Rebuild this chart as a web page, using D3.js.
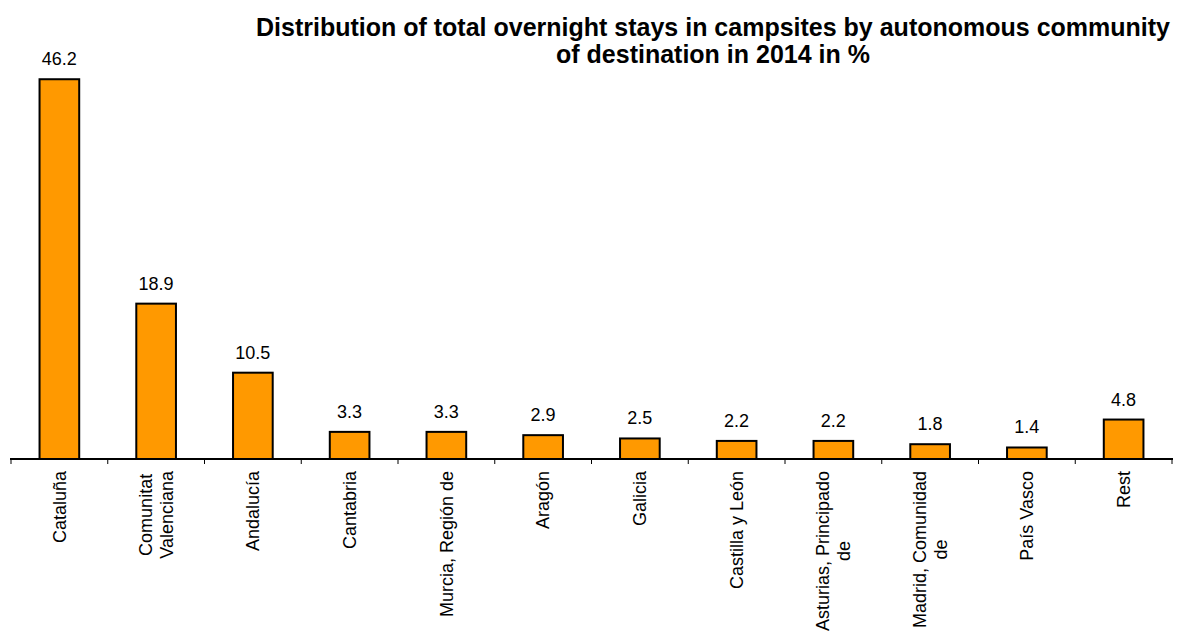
<!DOCTYPE html>
<html>
<head>
<meta charset="utf-8">
<script src="https://cdn.jsdelivr.net/npm/d3@7"></script>
<style>
  html, body { margin: 0; padding: 0; background: #fff; }
  svg { display: block; font-family: "Liberation Sans", Arial, sans-serif; }
</style>
</head>
<body>
<svg id="chart" width="1184" height="632"></svg>
<script>
// Overnight stays in campsites by autonomous community, 2014 (%)
const categories = [
  "Cataluña",
  "Comunitat Valenciana",
  "Andalucía",
  "Cantabria",
  "Murcia,  Región de",
  "Aragón",
  "Galicia",
  "Castilla y León",
  "Asturias, Principado de",
  "Madrid, Comunidad de",
  "País Vasco",
  "Rest"
];
const values = [46.2, 18.9, 10.5, 3.3, 3.3, 2.9, 2.5, 2.2, 2.2, 1.8, 1.4, 4.8];
// label line breaks as they appear under the axis
const labelLines = [
  ["Cataluña"],
  ["Comunitat", "Valenciana"],
  ["Andalucía"],
  ["Cantabria"],
  ["Murcia,  Región de"],
  ["Aragón"],
  ["Galicia"],
  ["Castilla y León"],
  ["Asturias, Principado", "de"],
  ["Madrid, Comunidad", "de"],
  ["País Vasco"],
  ["Rest"]
];
const titleLines = [
  "Distribution of total overnight stays in campsites by autonomous community",
  "of destination in 2014 in %"
];

const svg = d3.select("#chart");
const baseY = 459;

const x = d3.scaleBand()
  .domain(categories)
  .range([11, 1172])
  .paddingInner(0.59)
  .paddingOuter(0.295);

const y = d3.scaleLinear()
  .domain([0, 50])
  .range([baseY, 48]);

// title
const title = svg.append("text")
  .attr("x", 713)
  .attr("y", 36)
  .attr("text-anchor", "middle")
  .style("font-weight", "bold")
  .style("font-size", "25px")
  .attr("fill", "#000");
title.selectAll("tspan")
  .data(titleLines)
  .join("tspan")
  .attr("x", 713)
  .attr("dy", (d, i) => i === 0 ? 0 : 27)
  .text(d => d);

// bars
svg.append("g")
  .selectAll("rect")
  .data(values)
  .join("rect")
  .attr("x", (d, i) => x(categories[i]))
  .attr("y", d => y(d))
  .attr("width", x.bandwidth())
  .attr("height", d => baseY - y(d))
  .attr("fill", "#FF9900")
  .attr("stroke", "#000")
  .attr("stroke-width", 2);

// value labels
svg.append("g")
  .selectAll("text")
  .data(values)
  .join("text")
  .attr("x", (d, i) => x(categories[i]) + x.bandwidth() / 2)
  .attr("y", d => y(d) - 14)
  .attr("text-anchor", "middle")
  .style("font-size", "18px")
  .attr("fill", "#000")
  .text(d => d.toFixed(1));

// category axis: baseline with tick marks between categories
const step = x.step();
const tickPos = d3.range(categories.length + 1).map(i => 11 + i * step);
const axis = svg.append("g");
axis.selectAll("line.tick")
  .data(tickPos)
  .join("line")
  .attr("class", "tick")
  .attr("x1", d => d).attr("x2", d => d)
  .attr("y1", baseY).attr("y2", baseY + 5)
  .attr("stroke", "#000")
  .attr("stroke-width", 1);
axis.append("line")
  .attr("x1", 10).attr("x2", 1173)
  .attr("y1", baseY).attr("y2", baseY)
  .attr("stroke", "#000")
  .attr("stroke-width", 2);

// rotated category labels, lines centred on each other, top end at labelTop
const labelTop = 471;
const lineGap = 21;
const labels = svg.append("g");
labelLines.forEach((lines, i) => {
  const cx = x(categories[i]) + x.bandwidth() / 2;
  const g = labels.append("g")
    .attr("transform", `translate(${cx},${labelTop}) rotate(-90)`);
  const texts = lines.map((ln, j) => g.append("text")
    .attr("text-anchor", "middle")
    .attr("dy", "0.35em")
    .attr("y", (j - (lines.length - 1) / 2) * lineGap)
    .style("font-size", "18px")
    .attr("fill", "#000")
    .text(ln));
  const maxW = d3.max(texts, t => t.node().getComputedTextLength());
  texts.forEach(t => t.attr("x", -maxW / 2));
});
</script>
</body>
</html>
